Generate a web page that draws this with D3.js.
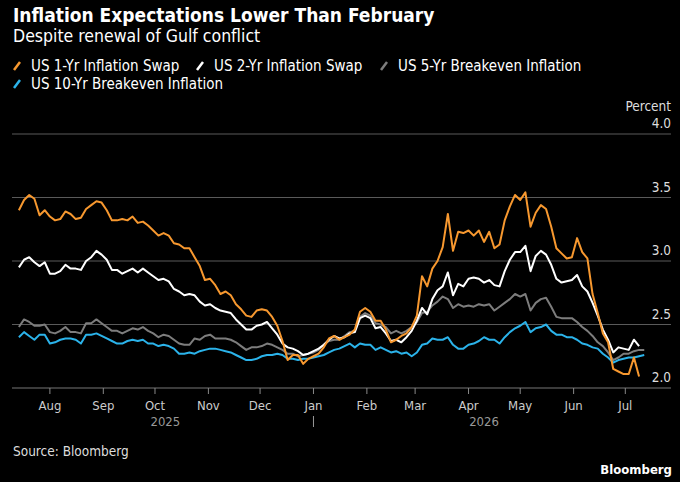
<!DOCTYPE html>
<html>
<head>
<meta charset="utf-8">
<script src="https://cdn.jsdelivr.net/npm/d3@7"></script>
<style>
  body { margin: 0; background: #000; }
  svg text { font-family: "DejaVu Sans Condensed", "DejaVu Sans", sans-serif; font-stretch: condensed; }
</style>
</head>
<body>
<div id="chart"></div>
<script>
const width = 680,
  height = 482;

// every 3 days
const dates = [
  "2025-07-14","2025-07-17","2025-07-20","2025-07-23","2025-07-26","2025-07-29",
  "2025-08-01","2025-08-04","2025-08-07","2025-08-10","2025-08-13","2025-08-16","2025-08-19","2025-08-22","2025-08-25","2025-08-28","2025-08-31",
  "2025-09-03","2025-09-06","2025-09-09","2025-09-12","2025-09-15","2025-09-18","2025-09-21","2025-09-24","2025-09-27","2025-09-30",
  "2025-10-03","2025-10-06","2025-10-09","2025-10-12","2025-10-15","2025-10-18","2025-10-21","2025-10-24","2025-10-27","2025-10-30",
  "2025-11-02","2025-11-05","2025-11-08","2025-11-11","2025-11-14","2025-11-17","2025-11-20","2025-11-23","2025-11-26","2025-11-29",
  "2025-12-02","2025-12-05","2025-12-08","2025-12-11","2025-12-14","2025-12-17","2025-12-20","2025-12-23","2025-12-26","2025-12-29",
  "2026-01-01","2026-01-04","2026-01-07","2026-01-10","2026-01-13","2026-01-16","2026-01-19","2026-01-22","2026-01-25","2026-01-28","2026-01-31",
  "2026-02-03","2026-02-06","2026-02-09","2026-02-12","2026-02-15","2026-02-18","2026-02-21","2026-02-24","2026-02-27",
  "2026-03-02","2026-03-05","2026-03-08","2026-03-11","2026-03-14","2026-03-17","2026-03-20","2026-03-23","2026-03-26","2026-03-29",
  "2026-04-01","2026-04-04","2026-04-07","2026-04-10","2026-04-13","2026-04-16","2026-04-19","2026-04-22","2026-04-25","2026-04-28",
  "2026-05-01","2026-05-04","2026-05-07","2026-05-10","2026-05-13","2026-05-16","2026-05-19","2026-05-22","2026-05-25","2026-05-28","2026-05-31",
  "2026-06-03","2026-06-06","2026-06-09","2026-06-12","2026-06-15","2026-06-18","2026-06-21","2026-06-24","2026-06-27","2026-06-30",
  "2026-07-03","2026-07-06","2026-07-09","2026-07-12"
];

const oneYrSwap = [
  3.40,3.48,3.52,3.49,3.36,3.40,3.35,3.32,3.33,3.39,3.37,3.33,3.34,3.41,3.44,3.47,3.46,3.40,3.32,3.32,
  3.33,3.32,3.35,3.30,3.31,3.28,3.24,3.20,3.22,3.20,3.14,3.13,3.10,3.10,3.03,2.96,2.85,2.86,2.81,2.74,
  2.76,2.73,2.66,2.62,2.57,2.56,2.61,2.62,2.61,2.56,2.49,2.37,2.22,2.26,2.26,2.19,2.23,2.25,2.27,2.32,
  2.39,2.41,2.38,2.40,2.42,2.46,2.60,2.63,2.60,2.53,2.53,2.46,2.36,2.38,2.41,2.43,2.48,2.57,2.88,2.80,
  2.94,3.00,3.11,3.37,3.08,3.23,3.22,3.24,3.20,3.24,3.15,3.23,3.10,3.13,3.32,3.43,3.52,3.48,3.54,3.27,
  3.38,3.44,3.41,3.27,3.10,3.06,3.02,3.03,3.18,3.07,3.02,2.74,2.59,2.43,2.36,2.15,2.13,2.11,2.11,2.24,2.09,null
];

const twoYrSwap = [
  2.95,3.01,3.03,2.99,2.96,2.99,2.90,2.90,2.92,2.97,2.94,2.94,2.93,3.00,3.03,3.08,3.05,3.01,2.93,2.93,
  2.90,2.92,2.94,2.91,2.94,2.91,2.88,2.85,2.86,2.84,2.78,2.76,2.73,2.74,2.73,2.68,2.65,2.66,2.63,2.61,
  2.60,2.59,2.54,2.50,2.46,2.46,2.49,2.50,2.52,2.47,2.42,2.35,2.32,2.31,2.29,2.26,2.27,2.29,2.31,2.34,
  2.38,2.41,2.39,2.40,2.43,2.44,2.55,2.57,2.55,2.47,2.48,2.43,2.37,2.38,2.36,2.40,2.45,2.53,2.63,2.58,
  2.70,2.77,2.80,2.91,2.73,2.82,2.80,2.86,2.87,2.86,2.83,2.85,2.81,2.80,2.92,3.01,3.07,3.07,3.12,2.92,
  3.04,3.08,3.05,2.97,2.86,2.83,2.84,2.85,2.89,2.80,2.76,2.67,2.57,2.46,2.38,2.28,2.32,2.31,2.30,2.38,2.33,null
];

const fiveYrBreakeven = [
  2.48,2.54,2.52,2.49,2.49,2.50,2.44,2.43,2.45,2.48,2.44,2.44,2.43,2.51,2.51,2.54,2.51,2.48,2.45,2.45,
  2.43,2.45,2.47,2.46,2.48,2.45,2.43,2.40,2.42,2.41,2.38,2.35,2.34,2.34,2.39,2.38,2.41,2.42,2.39,2.39,
  2.39,2.38,2.36,2.33,2.30,2.32,2.32,2.33,2.35,2.34,2.32,2.30,2.27,2.27,2.25,2.26,2.27,2.28,2.30,2.34,
  2.37,2.38,2.38,2.41,2.44,2.45,2.56,2.59,2.57,2.51,2.50,2.48,2.43,2.45,2.43,2.45,2.48,2.52,2.59,2.60,
  2.65,2.68,2.72,2.70,2.63,2.66,2.64,2.65,2.64,2.66,2.65,2.66,2.61,2.64,2.67,2.70,2.74,2.72,2.74,2.61,
  2.67,2.70,2.71,2.64,2.56,2.55,2.55,2.55,2.52,2.48,2.45,2.41,2.36,2.33,2.28,2.22,2.24,2.27,2.27,2.29,2.30,2.30
];

const tenYrBreakeven = [
  2.40,2.44,2.41,2.38,2.42,2.42,2.35,2.36,2.38,2.39,2.39,2.38,2.35,2.42,2.42,2.43,2.41,2.39,2.37,2.35,
  2.35,2.37,2.38,2.37,2.38,2.35,2.35,2.33,2.34,2.33,2.31,2.27,2.27,2.28,2.27,2.29,2.30,2.31,2.31,2.30,
  2.29,2.28,2.26,2.24,2.22,2.22,2.23,2.25,2.26,2.26,2.27,2.26,2.23,2.23,2.22,2.23,2.23,2.24,2.25,2.26,
  2.28,2.30,2.31,2.33,2.35,2.32,2.35,2.34,2.34,2.30,2.32,2.30,2.28,2.29,2.27,2.28,2.25,2.28,2.34,2.35,
  2.39,2.38,2.38,2.40,2.34,2.31,2.31,2.34,2.35,2.37,2.40,2.38,2.38,2.35,2.40,2.44,2.47,2.49,2.52,2.44,
  2.47,2.48,2.50,2.45,2.42,2.42,2.40,2.40,2.38,2.35,2.34,2.32,2.31,2.27,2.24,2.20,2.22,2.23,2.24,2.24,2.25,2.26
];

const seriesNames = ["US 1-Yr Inflation Swap", "US 2-Yr Inflation Swap", "US 5-Yr Breakeven Inflation", "US 10-Yr Breakeven Inflation"];
const yTicks = [2.0, 2.5, 3.0, 3.5, 4.0];
const monthTicks = ["2025-08-01","2025-09-01","2025-10-01","2025-11-01","2025-12-01","2026-01-01",
  "2026-02-01","2026-03-01","2026-04-01","2026-05-01","2026-06-01","2026-07-01"];
const yearLabels = ["2025", "2026"];
const yearLabelDates = ["2025-10-07", "2026-04-10"];

const colors = ["#f7982f", "#ffffff", "#7d7d7d", "#2bb3ea"];
const parse = d3.utcParse("%Y-%m-%d");

const svg = d3.select("#chart")
  .append("svg")
  .attr("width", width)
  .attr("height", height);

svg.append("rect").attr("width", width).attr("height", height).attr("fill", "#000");

const x = d3.scaleUtc()
  .domain([parse("2025-08-01"), parse("2026-07-01")])
  .range([49.9, 625.3]);

const y = d3.scaleLinear()
  .domain([2, 4])
  .range([388, 134]);

const left = 12, right = 671;

// title block
svg.append("text").attr("x", 13).attr("y", 22)
  .attr("fill", "#fff").attr("font-size", 19).attr("font-weight", "bold")
  .text("Inflation Expectations Lower Than February");
svg.append("text").attr("x", 13).attr("y", 42)
  .attr("fill", "#fff").attr("font-size", 17.5)
  .text("Despite renewal of Gulf conflict");

// legend
const legendPos = [[13, 65], [196, 65], [380, 65], [13, 83]];
const legend = svg.append("g")
  .selectAll("g")
  .data(seriesNames)
  .join("g")
  .attr("transform", (d, i) => `translate(${legendPos[i][0]},${legendPos[i][1]})`);
legend.append("line")
  .attr("x1", 1).attr("y1", 5).attr("x2", 7).attr("y2", -3)
  .attr("stroke", (d, i) => colors[i]).attr("stroke-width", 2.5);
legend.append("text")
  .attr("x", 18).attr("y", 5.5)
  .attr("fill", "#fff").attr("font-size", 15)
  .text(d => d);

// gridlines + y labels
svg.append("g")
  .selectAll("line")
  .data(yTicks.filter(v => v > 2))
  .join("line")
  .attr("x1", left).attr("x2", right)
  .attr("y1", d => y(d)).attr("y2", d => y(d))
  .attr("stroke", "#5a5a5a").attr("stroke-width", 1);

svg.append("g")
  .selectAll("text")
  .data(yTicks)
  .join("text")
  .attr("x", right).attr("y", d => y(d) - 6)
  .attr("text-anchor", "end")
  .attr("fill", "#ddd").attr("font-size", 13.5)
  .text(d => d3.format(".1f")(d));

svg.append("text").attr("x", right).attr("y", y(4) - 23)
  .attr("text-anchor", "end").attr("fill", "#ddd").attr("font-size", 13.5)
  .text("Percent");

// x axis
svg.append("line")
  .attr("x1", left).attr("x2", right)
  .attr("y1", y(2)).attr("y2", y(2))
  .attr("stroke", "#777");

const months = monthTicks.map(parse);
svg.append("g")
  .selectAll("line")
  .data(months)
  .join("line")
  .attr("x1", d => x(d)).attr("x2", d => x(d))
  .attr("y1", y(2)).attr("y2", y(2) + 6)
  .attr("stroke", "#888");

svg.append("g")
  .selectAll("text")
  .data(months)
  .join("text")
  .attr("x", d => x(d)).attr("y", 410)
  .attr("text-anchor", "middle")
  .attr("fill", "#ccc").attr("font-size", 13)
  .text(d => d3.utcFormat("%b")(d));

svg.append("g")
  .selectAll("text")
  .data(yearLabels)
  .join("text")
  .attr("x", (d, i) => x(parse(yearLabelDates[i]))).attr("y", 426)
  .attr("text-anchor", "middle")
  .attr("fill", "#999").attr("font-size", 13)
  .text(d => d);

svg.append("line")
  .attr("x1", x(parse("2026-01-01"))).attr("x2", x(parse("2026-01-01")))
  .attr("y1", 416).attr("y2", 427)
  .attr("stroke", "#999");

// lines
const allSeries = [oneYrSwap, twoYrSwap, fiveYrBreakeven, tenYrBreakeven];
const line = d3.line()
  .defined(d => d[1] != null)
  .x(d => x(d[0]))
  .y(d => y(d[1]));

const drawOrder = [2, 3, 1, 0];
svg.append("g")
  .selectAll("path")
  .data(drawOrder)
  .join("path")
  .attr("fill", "none")
  .attr("stroke", i => colors[i])
  .attr("stroke-width", 2)
  .attr("stroke-linejoin", "round")
  .attr("d", i => line(dates.map((dt, k) => [parse(dt), allSeries[i][k]])));

// footer
svg.append("text").attr("x", 13).attr("y", 456)
  .attr("fill", "#ddd").attr("font-size", 13.5)
  .text("Source: Bloomberg");
svg.append("text").attr("x", 672).attr("y", 474)
  .attr("text-anchor", "end")
  .attr("fill", "#fff").attr("font-size", 13).attr("font-weight", "bold")
  .text("Bloomberg");
</script>
</body>
</html>
